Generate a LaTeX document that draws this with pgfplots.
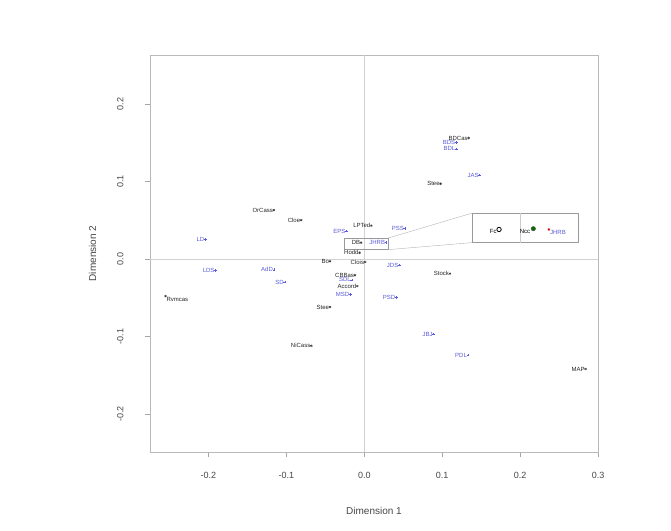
\documentclass[border=0pt]{standalone}
\usepackage{pgfplots}
\pgfplotsset{compat=1.18}
\usepackage{fontspec}
\setmainfont{Liberation Sans}
\definecolor{lblue}{RGB}{90,90,220}
\definecolor{tk}{RGB}{70,70,70}
\begin{document}
\begin{tikzpicture}
\begin{axis}[
  scale only axis, width=448pt, height=397pt,
  xmin=-0.275, xmax=0.3, ymin=-0.249, ymax=0.263,
  axis line style={gray!55},
  xtick pos=bottom, ytick pos=left,
  tick align=outside, tick style={gray!70, thin}, major tick length=5pt,
  xtick={-0.2,-0.1,0,0.1,0.2,0.3}, ytick={-0.2,-0.1,0,0.1,0.2},
  xticklabels={-0.2,-0.1,0.0,0.1,0.2,0.3},
  yticklabels={-0.2,-0.1,0.0,0.1,0.2},
  xticklabel style={font=\fontsize{9}{10}\selectfont, text=tk, yshift=-12pt},
  yticklabel style={font=\fontsize{9}{10}\selectfont, text=tk, xshift=-18pt, rotate=90, anchor=south},
  xlabel={Dimension 1}, ylabel={Dimension 2},
  xlabel style={font=\fontsize{10}{12}\selectfont, text=tk, yshift=-21pt},
  ylabel style={font=\fontsize{10}{12}\selectfont, text=tk, yshift=14pt},
  clip=false,
  nodes near coords,
  point meta=explicit symbolic,
]
\draw[gray!35] (axis cs:0,-0.249) -- (axis cs:0,0.263);
\draw[gray!35] (axis cs:-0.275,0) -- (axis cs:0.3,0);
% inset decoration
\draw[gray!80] (axis cs:-0.026,0.027) rectangle (axis cs:0.031,0.012);
\draw[gray!60] (axis cs:0.031,0.027) -- (axis cs:0.138,0.059);
\draw[gray!60] (axis cs:0.031,0.012) -- (axis cs:0.138,0.021);
\draw[gray!80, fill=white] (axis cs:0.138,0.059) rectangle (axis cs:0.274,0.021);
\draw[gray!40] (axis cs:0.2,0.059) -- (axis cs:0.2,0.021);

% black (column) points
\addplot[only marks, mark=asterisk, mark size=1.3pt, black!80,
  nodes near coords style={anchor=east, font=\fontsize{6}{7}\selectfont, inner sep=0.8pt, text=black!85}]
  table[meta=label] {
x y label
0.134 0.156 BDCas
0.098 0.097 Stee
-0.116 0.063 OrCass
-0.081 0.050 Cloe
0.009 0.043 LPTed
-0.006 0.008 Hodd
-0.044 -0.003 Bo
0.001 -0.004 Clois
-0.012 -0.021 CBBas
-0.009 -0.035 Accord
-0.044 -0.062 Stee
-0.068 -0.112 NiCass
0.110 -0.019 Stock
0.284 -0.142 MAP
-0.004 0.021 DB
};
\addplot[only marks, mark=asterisk, mark size=1.3pt, black!80,
  nodes near coords style={anchor=north west, font=\fontsize{6}{7}\selectfont, inner sep=0.8pt, text=black!85}]
  table[meta=label] {
x y label
-0.255 -0.048 Rvmcas
};

% blue (row) points
\addplot[only marks, mark=+, mark size=1.3pt, lblue,
  nodes near coords style={anchor=east, font=\fontsize{6}{7}\selectfont, inner sep=0.8pt, text=lblue}]
  table[meta=label] {
x y label
-0.204 0.025 LD
-0.191 -0.015 LDS
-0.116 -0.014 AdD
-0.102 -0.030 SD
-0.023 0.036 EPS
0.052 0.039 PSS
0.045 -0.008 JDS
0.041 -0.050 PSD
0.089 -0.097 JBJ
0.133 -0.124 PDL
0.148 0.108 JAS
-0.016 -0.027 SDL
-0.018 -0.046 MSD
0.118 0.150 BDS
0.118 0.142 BDL
0.028 0.021 JHRB
};

% inset contents
\addplot[only marks, mark=o, mark size=2.2pt, black, thick,
  nodes near coords style={anchor=east, font=\fontsize{6}{7}\selectfont, inner sep=2pt, yshift=-2pt, text=black}]
  table[meta=label] {
x y label
0.173 0.038 Fc
};
\addplot[only marks, mark=*, mark size=2.2pt, draw=black!70, fill=green!45!black,
  nodes near coords style={anchor=east, font=\fontsize{6}{7}\selectfont, inner sep=3pt, yshift=-3pt, text=black}]
  table[meta=label] {
x y label
0.217 0.039 Ncc
};
\addplot[only marks, mark=asterisk, mark size=1.5pt, red!80!black,
  nodes near coords style={anchor=north west, font=\fontsize{6}{7}\selectfont, inner sep=1pt, text=lblue}]
  table[meta=label] {
x y label
0.237 0.038 JHRB
};
\end{axis}
\path (current axis.south west) ++(-150pt,-78pt) rectangle ++(671pt,530pt);
\end{tikzpicture}
\end{document}
